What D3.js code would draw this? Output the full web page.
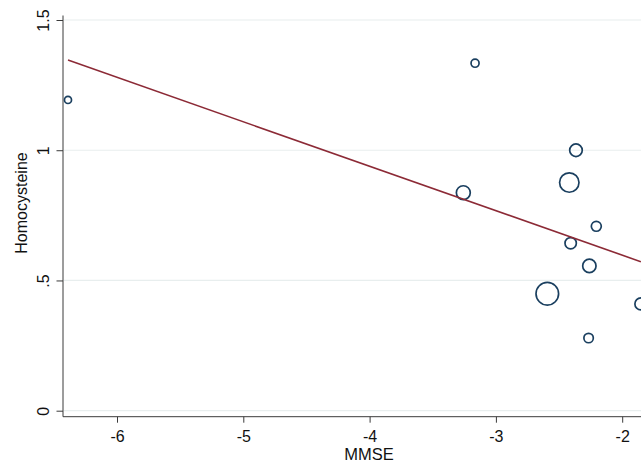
<!DOCTYPE html>
<html>
<head>
<meta charset="utf-8">
<script src="https://cdn.jsdelivr.net/npm/d3@7"></script>
<style>
  html, body { margin: 0; padding: 0; background: #ffffff; }
  svg { display: block; font-family: "Liberation Sans", Arial, sans-serif; }
</style>
</head>
<body>
<svg id="chart" width="641" height="463"></svg>
<script>
// Study-level estimates: change in MMSE vs. homocysteine, bubble size = study weight
const mmse         = [-3.165, -2.366, -2.419, -3.258, -2.205, -2.408, -2.260, -2.593, -1.852, -2.266, -6.388];
const homocysteine = [ 1.334,  1.000,  0.876,  0.837,  0.708,  0.643,  0.556,  0.449,  0.410,  0.279,  1.193];
const weights      = [ 13,     32,     76,     39,     20,     26,     36,    103,     29,     18,     10];

// Fitted meta-regression line (endpoints at the data range)
const fitX = [-6.388, -1.852];
const fitY = [ 1.346,  0.572];

const xTicks = [-6, -5, -4, -3, -2];
const yTicks = [0, 0.5, 1, 1.5];
const yTickLabels = ["0", ".5", "1", "1.5"];

const svg = d3.select("#chart");

const x = d3.scaleLinear().domain([-6, -2]).range([117, 622.2]);
const y = d3.scaleLinear().domain([0, 1.5]).range([410.7, 20]);
const r = d3.scaleSqrt().domain([0, d3.max(weights)]).range([0, 11.3]);

const axisLeftX = 63;
const axisBottomY = 416.7;
const axisColor = "#3a3a3a";

// horizontal gridlines
svg.append("g")
  .selectAll("line")
  .data(yTicks)
  .join("line")
  .attr("x1", axisLeftX + 1)
  .attr("x2", 641)
  .attr("y1", d => y(d))
  .attr("y2", d => y(d))
  .attr("stroke", "#e8eeee")
  .attr("stroke-width", 1.2);

// y axis
const yAxis = d3.axisLeft(y)
  .tickValues(yTicks)
  .tickFormat((d, i) => yTickLabels[i])
  .tickSize(6.5)
  .tickSizeOuter(0);

const gy = svg.append("g")
  .attr("transform", `translate(${axisLeftX},0)`)
  .call(yAxis);
gy.select(".domain").remove();
gy.selectAll(".tick line").attr("stroke", axisColor);
gy.selectAll(".tick text")
  .attr("x", null).attr("dy", null)
  .attr("transform", "translate(-20,0) rotate(-90)")
  .attr("text-anchor", "middle")
  .attr("dominant-baseline", "central")
  .attr("font-size", 16)
  .attr("fill", "#111");
gy.append("line")
  .attr("x1", 0).attr("x2", 0)
  .attr("y1", 15.5).attr("y2", axisBottomY)
  .attr("stroke", axisColor);

// x axis
const xAxis = d3.axisBottom(x)
  .tickValues(xTicks)
  .tickFormat(d3.format("d"))
  .tickSize(6)
  .tickSizeOuter(0);

const gx = svg.append("g")
  .attr("transform", `translate(0,${axisBottomY})`)
  .call(xAxis);
gx.select(".domain").remove();
gx.selectAll(".tick line").attr("stroke", axisColor);
gx.selectAll(".tick text")
  .attr("y", 19.5).attr("dy", null)
  .attr("dominant-baseline", "central")
  .attr("font-size", 16)
  .attr("fill", "#111")
  .text(d => d3.format("d")(d).replace("\u2212", "-"));
gx.append("line")
  .attr("x1", axisLeftX).attr("x2", 641)
  .attr("y1", 0).attr("y2", 0)
  .attr("stroke", axisColor);

// axis titles
svg.append("text")
  .attr("x", 369)
  .attr("y", 453.5)
  .attr("text-anchor", "middle")
  .attr("dominant-baseline", "central")
  .attr("font-size", 16.5)
  .attr("fill", "#111")
  .text("MMSE");

svg.append("text")
  .attr("transform", "translate(21.5,203) rotate(-90)")
  .attr("text-anchor", "middle")
  .attr("dominant-baseline", "central")
  .attr("font-size", 16)
  .attr("fill", "#111")
  .text("Homocysteine");

// bubbles
const pts = mmse.map((v, i) => ({ x: v, y: homocysteine[i], w: weights[i] }));
svg.append("g")
  .selectAll("circle")
  .data(pts)
  .join("circle")
  .attr("cx", d => x(d.x))
  .attr("cy", d => y(d.y))
  .attr("r", d => r(d.w))
  .attr("fill", "none")
  .attr("stroke", "#1a3f5f")
  .attr("stroke-width", 1.7);

// fitted line
const fit = fitX.map((v, i) => [v, fitY[i]]);
svg.append("path")
  .datum(fit)
  .attr("d", d3.line().x(d => x(d[0])).y(d => y(d[1])))
  .attr("fill", "none")
  .attr("stroke", "#8c2a36")
  .attr("stroke-width", 1.6);
</script>
</body>
</html>
